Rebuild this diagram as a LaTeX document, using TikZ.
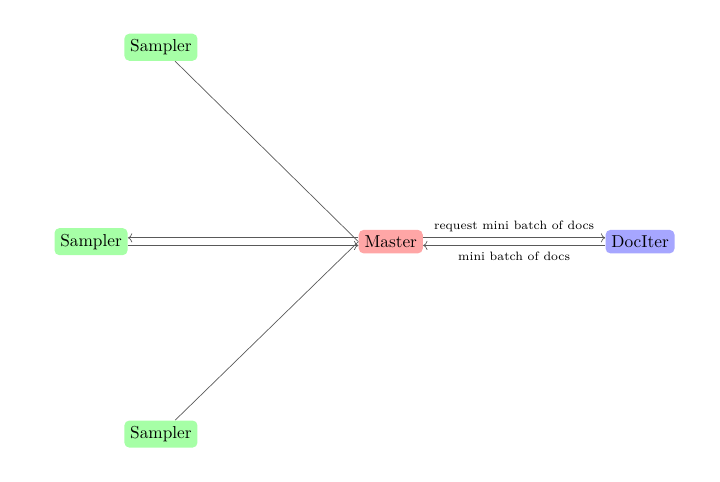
\documentclass[tikz,border=0pt]{standalone}
\usepackage{tikz}
\usetikzlibrary{arrows.meta,positioning,backgrounds}

\begin{document}
\begin{tikzpicture}[
  box/.style={rounded corners=1mm},
  smp/.style={box, fill=green!35},
  mst/.style={box, fill=red!35},
  itr/.style={box, fill=blue!35},
  arr/.style={->, >=To, draw=black!65},
  lnk/.style={draw=black!65},
  lbl/.style={font=\scriptsize, text=black}
]
  \useasboundingbox (0,0) rectangle (14.63,9.78);
  \def\off{2.2pt}

  % ── Nodes ──
  \node[mst] (m) at (7.94,4.87) {Master};
  \node[itr, right=3.7cm of m] (it) {DocIter};
  \node[smp] (s2) at (1.85,4.87) {Sampler};
  \node[smp] (s1) at (3.27,8.82) {Sampler};
  \node[smp] (s3) at (3.27,0.96) {Sampler};

  % ── Master <-> samplers ──
  \begin{scope}[on background layer]
    \draw[lnk] (s1) -- (m.west);
    \draw[lnk] (s3) -- (m.west);
  \end{scope}
  \draw[arr] ([yshift=\off]m.west) -- ([yshift=\off]s2.east);
  \draw[arr] ([yshift=-\off]s2.east) -- ([yshift=-\off]m.west);

  % ── Master <-> DocIter ──
  \draw[arr] ([yshift=\off]m.east) -- ([yshift=\off]it.west)
    node[lbl, midway, above] {request mini batch of docs};
  \draw[arr] ([yshift=-\off]it.west) -- ([yshift=-\off]m.east)
    node[lbl, midway, below] {mini batch of docs};
\end{tikzpicture}
\end{document}
